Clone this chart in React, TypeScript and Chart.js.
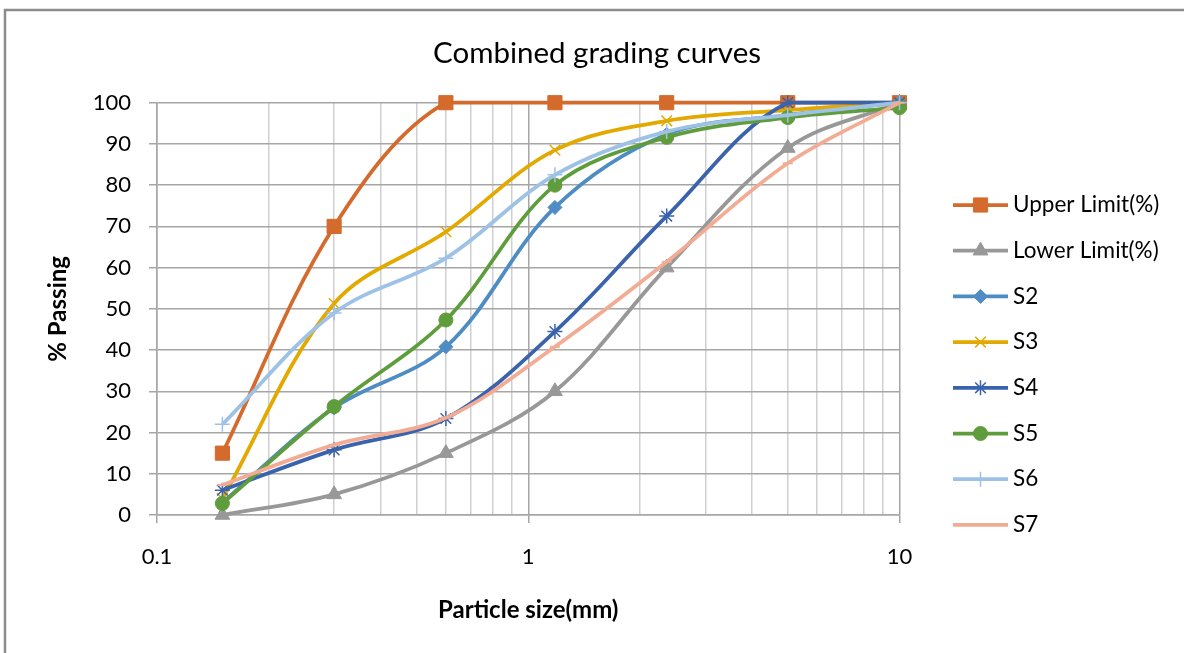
import React, { useEffect, useRef } from "react";
import { Chart, registerables } from "chart.js";
import * as helpers from "chart.js/helpers";

Chart.register(...registerables);

const sieveSizes = [0.15, 0.3, 0.6, 1.18, 2.36, 5, 10];
const upperLimit = [15, 70, 100, 100, 100, 100, 100];
const lowerLimit = [0, 5, 15, 30, 60, 89, 100];
const s2 = [3, 26, 40.8, 74.6, 92.3, 97, 100];
const s3 = [4, 51.3, 68.7, 88.5, 95.6, 98.2, 100];
const s4 = [6, 15.8, 23.4, 44.5, 72.5, 100, 100];
const s5 = [2.8, 26.3, 47.3, 80, 91.6, 96.4, 98.8];
const s6 = [22, 49, 62.3, 82.5, 93, 97, 100];
const s7 = [7.3, 17, 23.6, 40.8, 61.4, 85.3, 100];
const seriesNames = ["Upper Limit(%)", "Lower Limit(%)", "S2", "S3", "S4", "S5", "S6", "S7"];
const yTicks = [0, 10, 20, 30, 40, 50, 60, 70, 80, 90, 100];
const xMajorTicks = [0.1, 1, 10];
const chartTitle = "Combined grading curves";
const xTitle = "Particle size(mm)";
const yTitle = "% Passing";

const FONT = "Lato, 'Open Sans', sans-serif";

const styles = [
  { color: "#D46A2C", point: "rect", r: 10, bw: 1 },
  { color: "#989898", point: "triangle", r: 8.5, bw: 1 },
  { color: "#4E8CC4", point: "rectRot", r: 7, bw: 1 },
  { color: "#E2A900", point: "crossRot", r: 7.5, bw: 1.5 },
  { color: "#3A63AC", point: "star", r: 7.5, bw: 1.5 },
  { color: "#5F9D3C", point: "circle", r: 7, bw: 1 },
  { color: "#9EC2E6", point: "cross", r: 7.5, bw: 1.5 },
  { color: "#F2AC94", point: "line", r: 5, bw: 2 },
];

const allSeries = [upperLimit, lowerLimit, s2, s3, s4, s5, s6, s7];

const decorPlugin = {
  id: "decor",
  beforeDraw(chart: any) {
    const ctx = chart.ctx;
    ctx.save();
    ctx.fillStyle = "#ffffff";
    ctx.fillRect(0, 0, chart.width, chart.height);
    ctx.strokeStyle = "#8C8C8C";
    ctx.lineWidth = 2.5;
    ctx.beginPath();
    ctx.moveTo(5, chart.height);
    ctx.lineTo(5, 10);
    ctx.lineTo(chart.width, 10);
    ctx.stroke();
    ctx.restore();
  },
  afterDraw(chart: any) {
    const ctx = chart.ctx;
    ctx.save();
    ctx.fillStyle = "#000000";
    ctx.font = `29.5px ${FONT}`;
    ctx.textAlign = "center";
    ctx.textBaseline = "middle";
    ctx.fillText(chartTitle, 597, 53);

    const lx0 = 953;
    const lx1 = 1008;
    const y0 = 205;
    const dy = 45.7;
    chart.data.datasets.forEach((ds: any, i: number) => {
      const y = y0 + i * dy;
      ctx.strokeStyle = ds.borderColor;
      ctx.lineWidth = 3.75;
      ctx.lineCap = "butt";
      ctx.beginPath();
      ctx.moveTo(lx0, y);
      ctx.lineTo(lx1, y);
      ctx.stroke();
      ctx.fillStyle = ds.pointBackgroundColor;
      ctx.strokeStyle = ds.pointBorderColor;
      ctx.lineWidth = ds.pointBorderWidth;
      helpers.drawPoint(ctx, { pointStyle: ds.pointStyle, radius: ds.pointRadius, rotation: 0, borderWidth: ds.pointBorderWidth }, (lx0 + lx1) / 2, y);
      ctx.fillStyle = "#000000";
      ctx.font = `22.5px ${FONT}`;
      ctx.textAlign = "left";
      ctx.textBaseline = "middle";
      ctx.fillText(ds.label, 1013, y);
    });
    ctx.restore();
  },
};

export default function App() {
  const ref = useRef<HTMLCanvasElement>(null);
  useEffect(() => {
    if (!ref.current) return;
    const datasets = allSeries.map((vals, i) => ({
      label: seriesNames[i],
      data: vals.map((v, j) => ({ x: sieveSizes[j], y: v })),
      borderColor: styles[i].color,
      backgroundColor: styles[i].color,
      pointBackgroundColor: styles[i].color,
      pointBorderColor: styles[i].color,
      pointStyle: styles[i].point,
      pointRadius: styles[i].r,
      pointBorderWidth: styles[i].bw,
      borderWidth: 3.75,
      tension: 0.35,
      clip: false as any,
      order: allSeries.length - 1 - i,
    }));
    const chart = new Chart(ref.current, {
      type: "line",
      data: { datasets },
      plugins: [decorPlugin],
      options: {
        animation: false,
        responsive: false,
        devicePixelRatio: 1,
        layout: { padding: { top: 102.7, right: 284.5, left: 0, bottom: 0 } },
        plugins: { legend: { display: false }, tooltip: { enabled: false }, title: { display: false } },
        scales: {
          x: {
            type: "logarithmic",
            min: 0.1,
            max: 10,
            afterBuildTicks: (scale: any) => {
              const t: any[] = [];
              for (let d = 0.1; d < 10; d *= 10) {
                for (let k = 1; k <= 9; k++) t.push({ value: +(k * d).toFixed(2) });
              }
              t.push({ value: 10 });
              scale.ticks = t;
            },
            afterFit: (scale: any) => {
              scale.height = 138;
            },
            ticks: {
              autoSkip: false,
              maxRotation: 0,
              padding: 21,
              color: "#000000",
              font: { family: FONT, size: 22 },
              callback: (v: any) => (xMajorTicks.includes(Number(v)) ? String(v) : ""),
            },
            grid: {
              color: (c: any) => (c.tick && xMajorTicks.includes(c.tick.value) ? "#A6A6A6" : "#CFCFCF"),
              tickColor: (c: any) => (c.tick && xMajorTicks.includes(c.tick.value) ? "#A6A6A6" : "rgba(0,0,0,0)"),
              lineWidth: 1.5,
              tickLength: 8,
            },
            border: { color: "#A6A6A6", width: 1.5 },
            title: {
              display: true,
              text: xTitle,
              color: "#000000",
              font: { family: FONT, size: 24, weight: "bold" },
              padding: { top: 0, bottom: 28.5 },
            },
          },
          y: {
            min: 0,
            max: 100,
            afterBuildTicks: (scale: any) => {
              scale.ticks = yTicks.map((v) => ({ value: v }));
            },
            afterFit: (scale: any) => {
              scale.width = 157;
            },
            ticks: {
              padding: 18,
              color: "#000000",
              font: { family: FONT, size: 22 },
            },
            grid: { color: "#A6A6A6", lineWidth: 1.5, tickLength: 8 },
            border: { color: "#A6A6A6", width: 1.5 },
            title: {
              display: true,
              text: yTitle,
              color: "#000000",
              font: { family: FONT, size: 24, weight: "bold" },
              padding: { top: 44, bottom: 0 },
            },
          },
        },
      } as any,
    });
    return () => chart.destroy();
  }, []);
  return (
    <div style={{ position: "fixed", left: 0, top: 0, width: 1184, height: 653, background: "#fff" }}>
      <canvas ref={ref} width={1184} height={653} style={{ display: "block" }} />
    </div>
  );
}
